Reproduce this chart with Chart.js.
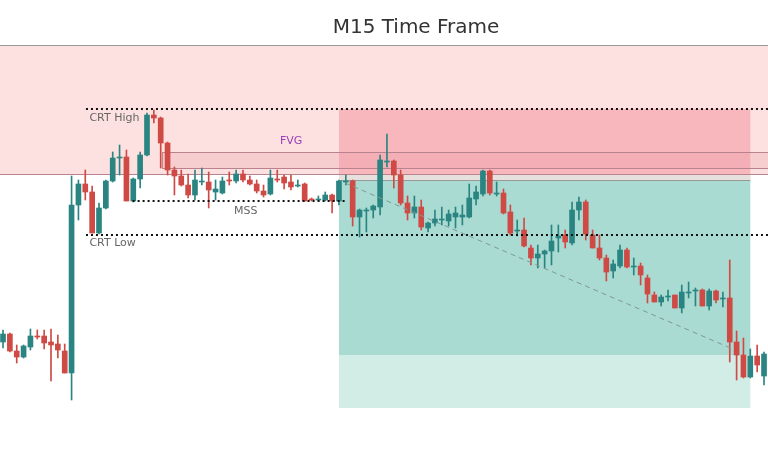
<!DOCTYPE html>
<html>
<head>
<meta charset="utf-8">
<script src="https://cdn.jsdelivr.net/npm/chart.js@4.4.1/dist/chart.umd.min.js"></script>
<style>
  html, body { margin: 0; padding: 0; background: #fff; }
  #wrap { width: 768px; height: 457px; }
</style>
</head>
<body>
<div id="wrap"><canvas id="chart"></canvas></div>
<script>
// price axis is inverted (bigger value = lower on chart)
const opens  = [342,334,351,357,347,336,336,342,344,351,373,205,184,192,233,208,181,157,157,201,179,155,115,118,143,170,176,185,195,181,182,192,193,180,181,174,180,184,191,194,179,177,182,186,184,199,199,200,195,201,181,181,217,210,210,207,161,161,175,203,213,207,228,223,220,221,217,217,217,199,194,171,193,193,212,230,230,248,258,254,251,238,235,243,210,202,235,248,258,271,266,250,266,266,278,295,302,296,295,308,292,290,290,306,291,298,298,342,355,377,356,376];
const highs  = [330,333,345,345,329,330,330,329,335,344,176,180,170,186,203,180,152,145,150,178,152,113,110,117,142,167,170,174,170,168,172,180,177,172,170,170,176,180,185,170,170,175,175,180,183,198,196,192,194,180,175,180,209,208,205,155,134,160,170,196,196,200,222,210,207,210,207,205,184,186,170,170,182,189,205,220,218,245,245,250,225,225,230,202,197,200,230,235,255,260,245,248,258,263,275,292,295,290,295,285,282,288,289,289,290,292,260,331,338,349,345,352];
const lows   = [348,352,363,358,350,339,349,381,358,373,400,220,200,233,234,209,182,175,201,202,188,156,123,168,175,195,186,198,200,185,208,200,194,185,183,182,185,193,197,195,182,189,190,187,201,201,201,201,213,205,185,226,237,232,218,215,167,188,205,220,218,230,232,226,225,226,228,225,218,205,196,195,196,214,235,236,247,265,268,268,265,252,248,245,220,240,248,260,281,278,268,268,275,285,303,302,306,301,308,313,298,306,306,310,303,307,362,380,378,378,372,385];
const closes = [334,351,357,346,336,337,343,345,350,373,205,184,192,233,208,181,158,157,201,179,155,115,118,143,170,176,185,195,180,181,190,189,181,181,174,180,184,191,195,178,180,183,187,185,201,200,199,195,201,181,181,217,210,210,206,160,161,175,203,213,207,227,223,219,219,214,213,215,198,192,171,193,193,213,233,230,246,258,254,251,241,236,242,210,202,234,248,258,272,264,250,267,266,275,294,302,297,296,308,292,292,290,306,291,300,298,342,355,377,356,365,354];

// levels and zones (same price units)
const crtHigh = 109, crtLow = 235, mss = 201;
const bigZone = [45, 174], fvgZone = [152, 168];
const sellZone = [109, 180], tpZone = [180, 355], extZone = [355, 408];

const idx = opens.map((_, i) => i);
const bull = opens.map((o, i) => closes[i] <= o);
const upCol = '#2a8582', dnCol = '#cf4a45';
const colors = bull.map(b => b ? upCol : dnCol);

const zonesPlugin = {
  id: 'zones',
  beforeDatasetsDraw(chart) {
    const { ctx, scales: { x, y } } = chart;
    const X = v => x.getPixelForValue(v), Y = v => y.getPixelForValue(v);
    const L = X(-0.44), R = X(111.58), zl = X(49.0), zr = X(109.0);
    ctx.save();
    ctx.fillStyle = '#fde1e1';
    ctx.fillRect(L, Y(bigZone[0]), R - L, Y(bigZone[1]) - Y(bigZone[0]));
    ctx.fillStyle = 'rgba(242,150,158,0.55)';
    ctx.fillRect(zl, Y(sellZone[0]), zr - zl, Y(sellZone[1]) - Y(sellZone[0]));
    ctx.fillStyle = '#a9dbd3';
    ctx.fillRect(zl, Y(tpZone[0]), zr - zl, Y(tpZone[1]) - Y(tpZone[0]));
    ctx.fillStyle = '#d2ece6';
    ctx.fillRect(zl, Y(extZone[0]), zr - zl, Y(extZone[1]) - Y(extZone[0]));
    ctx.fillStyle = '#e6e1dc';
    ctx.fillRect(zl, Y(bigZone[1]), zr - zl, Y(tpZone[0]) - Y(bigZone[1]));
    // FVG
    const fl = X(23.2);
    ctx.fillStyle = 'rgba(230,150,160,0.25)';
    ctx.fillRect(fl, Y(fvgZone[0]), R - fl, Y(fvgZone[1]) - Y(fvgZone[0]));
    ctx.strokeStyle = '#b9828f';
    ctx.lineWidth = 1;
    ctx.strokeRect(fl + 0.5, Y(fvgZone[0]) + 0.5, R - fl, Y(fvgZone[1]) - Y(fvgZone[0]));
    ctx.beginPath();
    ctx.moveTo(L, Y(bigZone[1]) + 0.5); ctx.lineTo(R, Y(bigZone[1]) + 0.5);
    ctx.stroke();
    ctx.strokeStyle = '#999';
    ctx.beginPath();
    ctx.moveTo(L, Y(bigZone[0]) + 0.5); ctx.lineTo(R, Y(bigZone[0]) + 0.5);
    ctx.moveTo(zl, Y(tpZone[0]) + 0.5); ctx.lineTo(zr, Y(tpZone[0]) + 0.5);
    ctx.stroke();
    ctx.restore();
  },
  afterDatasetsDraw(chart) {
    const { ctx, scales: { x, y } } = chart;
    const X = v => x.getPixelForValue(v), Y = v => y.getPixelForValue(v);
    ctx.save();
    ctx.strokeStyle = '#111';
    ctx.lineWidth = 2;
    ctx.setLineDash([2, 3]);
    const dotted = (a, b, lvl) => {
      ctx.beginPath(); ctx.moveTo(X(a), Y(lvl)); ctx.lineTo(X(b), Y(lvl)); ctx.stroke();
    };
    dotted(12.1, 111.6, crtHigh);
    dotted(12.1, 111.6, crtLow);
    dotted(18.9, 50.2, mss);
    // trend line
    ctx.strokeStyle = '#7f9994';
    ctx.lineWidth = 1;
    ctx.setLineDash([5, 4]);
    ctx.beginPath(); ctx.moveTo(X(49.9), Y(183)); ctx.lineTo(X(106.1), Y(348)); ctx.stroke();
    ctx.setLineDash([]);
    ctx.font = '11px "DejaVu Sans", sans-serif';
    ctx.fillStyle = '#666';
    ctx.textBaseline = 'middle';
    ctx.fillText('CRT High', X(12.6), Y(118));
    ctx.fillText('CRT Low', X(12.6), Y(243));
    ctx.fillText('MSS', X(33.7), Y(211));
    ctx.fillStyle = '#9b3fb5';
    ctx.fillText('FVG', X(40.4), Y(141));
    ctx.fillStyle = '#333';
    ctx.font = '20px "DejaVu Sans", sans-serif';
    ctx.textAlign = 'center';
    ctx.fillText('M15 Time Frame', 416, 28);
    ctx.restore();
  }
};

new Chart(document.getElementById('chart'), {
  type: 'bar',
  data: {
    datasets: [
      {
        label: 'wick',
        data: idx.map(i => ({ x: i, y: [highs[i], lows[i]] })),
        backgroundColor: colors,
        barThickness: 1,
        grouped: false,
        order: 2
      },
      {
        label: 'body',
        data: idx.map(i => ({ x: i, y: [opens[i], closes[i] === opens[i] ? closes[i] + 1 : closes[i]] })),
        backgroundColor: colors,
        barThickness: 5,
        grouped: false,
        order: 1
      }
    ]
  },
  options: {
    responsive: true,
    maintainAspectRatio: false,
    animation: false,
    layout: { padding: 0 },
    plugins: { legend: { display: false }, tooltip: { enabled: false }, title: { display: false } },
    scales: {
      x: { type: 'linear', min: -0.44, max: 111.58, offset: false, display: false },
      y: { min: 0, max: 457, reverse: true, display: false }
    }
  },
  plugins: [zonesPlugin]
});
</script>
</body>
</html>
